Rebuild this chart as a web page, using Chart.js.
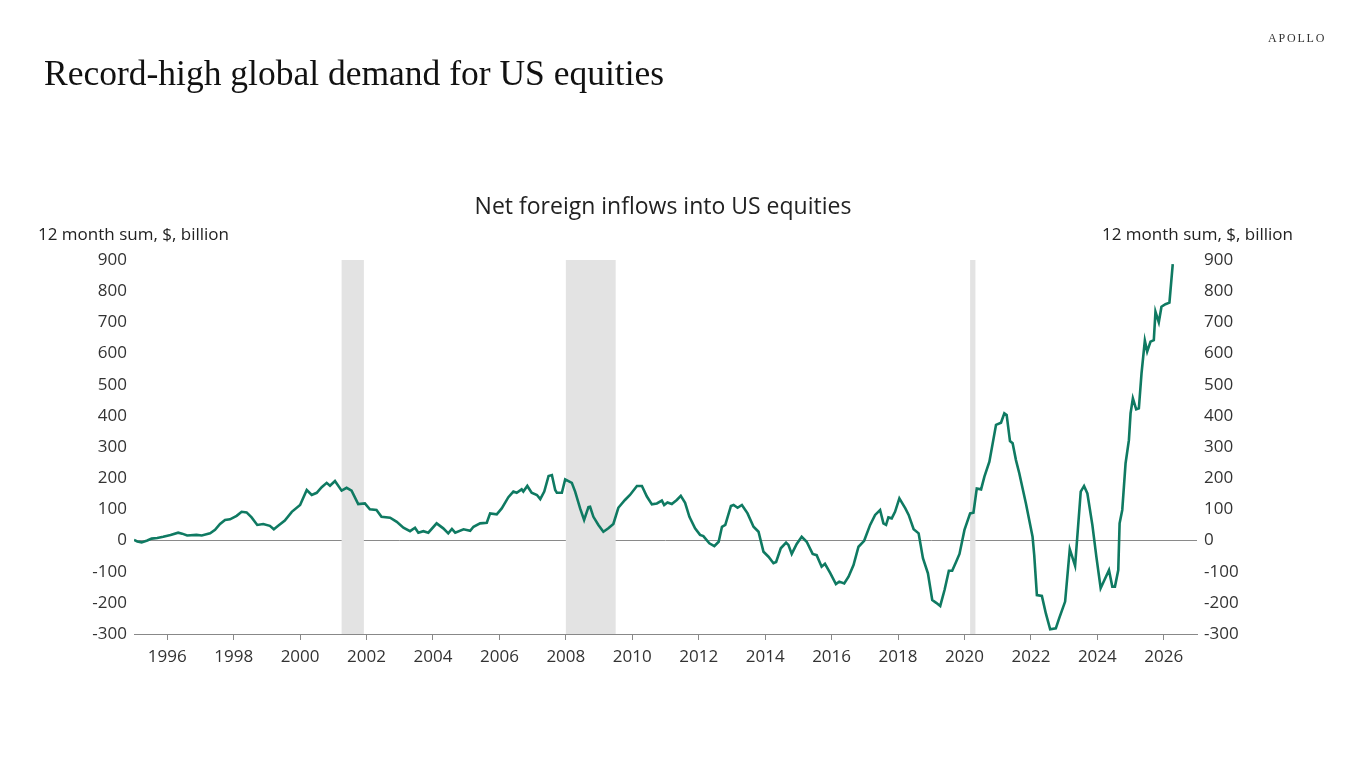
<!DOCTYPE html>
<html>
<head>
<meta charset="utf-8">
<script src="https://cdn.jsdelivr.net/npm/chart.js@4.4.1/dist/chart.umd.min.js"></script>
<style>
  html,body{margin:0;padding:0;background:#fff;}
  #wrap{position:relative;width:1366px;height:768px;overflow:hidden;}
  #c{position:absolute;left:0;top:0;}
  .t{position:absolute;white-space:nowrap;color:#222;}
  #title{left:44px;top:52px;font-family:"Liberation Serif",serif;font-size:35.5px;color:#111;}
  #logo{left:1268px;top:31px;font-family:"Liberation Serif",serif;font-size:12px;letter-spacing:1.8px;color:#333;}
  #sub{left:0;width:1326px;text-align:center;top:189px;font-family:"Open Sans",sans-serif;font-size:23px;color:#222;}
  #yl{left:38px;top:222px;font-family:"Open Sans",sans-serif;font-size:17px;}
  #yr{right:73px;top:222px;font-family:"Open Sans",sans-serif;font-size:17px;}
</style>
</head>
<body>
<div id="wrap">
  <canvas id="c" width="1366" height="768"></canvas>
  <div class="t" id="title">Record-high global demand for US equities</div>
  <div class="t" id="logo">APOLLO</div>
  <div class="t" id="sub">Net foreign inflows into US equities</div>
  <div class="t" id="yl">12 month sum, $, billion</div>
  <div class="t" id="yr">12 month sum, $, billion</div>
</div>
<script>
// Time (decimal year) of each reading
const years = [
1995.0,1995.1,1995.23,1995.4,1995.53,1995.7,1995.88,1996.1,1996.33,1996.45,1996.6,1996.88,
1997.04,1997.29,1997.44,1997.59,1997.74,1997.89,1998.09,1998.24,1998.39,1998.54,1998.71,1998.89,
1999.09,1999.21,1999.34,1999.54,1999.75,2000.0,2000.2,2000.35,2000.5,2000.65,2000.8,2000.9,
2001.05,2001.25,2001.4,2001.55,2001.75,2001.95,2002.1,2002.3,2002.45,2002.71,2002.91,2003.11,
2003.31,2003.46,2003.56,2003.71,2003.86,2004.11,2004.31,2004.46,2004.57,2004.67,2004.92,2005.12,
2005.22,2005.42,2005.62,2005.72,2005.92,2006.07,2006.27,2006.42,2006.52,2006.67,2006.72,2006.84,
2006.97,2007.13,2007.23,2007.35,2007.48,2007.58,2007.68,2007.73,2007.88,2007.98,2008.18,2008.28,
2008.43,2008.55,2008.68,2008.73,2008.83,2008.98,2009.13,2009.28,2009.43,2009.58,2009.78,2009.93,
2010.14,2010.29,2010.44,2010.59,2010.74,2010.89,2010.96,2011.06,2011.19,2011.34,2011.46,2011.59,
2011.72,2011.89,2012.04,2012.14,2012.32,2012.47,2012.6,2012.7,2012.8,2012.97,2013.05,2013.17,
2013.3,2013.47,2013.65,2013.8,2013.95,2014.1,2014.25,2014.33,2014.47,2014.63,2014.7,2014.8,
2014.95,2015.1,2015.25,2015.43,2015.55,2015.7,2015.8,2015.96,2016.13,2016.23,2016.38,2016.51,
2016.66,2016.81,2016.98,2017.16,2017.31,2017.46,2017.56,2017.64,2017.71,2017.81,2017.91,2018.04,
2018.22,2018.32,2018.47,2018.62,2018.75,2018.9,2019.03,2019.15,2019.27,2019.4,2019.53,2019.63,
2019.75,2019.85,2020.0,2020.17,2020.27,2020.37,2020.5,2020.6,2020.75,2020.95,2021.1,2021.2,
2021.27,2021.37,2021.45,2021.55,2021.65,2021.85,2022.05,2022.1,2022.18,2022.33,2022.45,2022.58,
2022.75,2022.85,2023.03,2023.17,2023.33,2023.5,2023.6,2023.7,2023.85,2023.97,2024.1,2024.22,
2024.35,2024.45,2024.53,2024.63,2024.67,2024.75,2024.85,2024.95,2025.0,2025.07,2025.17,2025.25,
2025.33,2025.43,2025.5,2025.6,2025.7,2025.75,2025.85,2025.93,2026.05,2026.17,2026.27
];
// Net foreign inflows, 12 month sum, $ billion
const inflows = [
2,-3,-6,0,6,8,12,18,25,22,16,18,
16,23,34,53,66,68,79,92,90,74,50,53,
47,36,47,64,92,114,162,146,153,171,185,176,
191,160,169,160,117,119,100,98,76,73,60,41,
30,41,25,30,25,55,39,23,37,25,36,31,
44,55,57,87,84,103,139,157,153,164,157,175,
153,146,133,157,207,210,162,153,153,196,185,157,
103,66,107,108,76,50,28,39,53,105,130,146,
175,175,141,116,119,128,114,122,117,130,143,121,
76,39,18,14,-9,-18,-4,44,50,111,114,105,
114,87,44,28,-36,-52,-73,-69,-25,-7,-14,-43,
-11,12,-4,-43,-47,-84,-75,-105,-140,-132,-138,-116,
-79,-20,-1,50,82,98,55,50,74,71,92,135,
103,82,36,23,-57,-105,-191,-200,-210,-159,-97,-97,
-68,-43,34,87,89,167,164,205,253,371,378,408,
403,319,312,258,216,119,12,-47,-175,-178,-234,-285,
-282,-250,-196,-28,-81,157,175,151,50,-52,-153,-125,
-95,-148,-148,-95,55,98,248,322,408,456,421,424,
536,641,606,638,643,734,700,750,758,763,887
];
const xTicks = [1996,1998,2000,2002,2004,2006,2008,2010,2012,2014,2016,2018,2020,2022,2024,2026];
const yTicks = [-300,-200,-100,0,100,200,300,400,500,600,700,800,900];
const recessionStart = [2001.25, 2008.0, 2020.17];
const recessionEnd   = [2001.92, 2009.5, 2020.33];

const points = years.map((y,i)=>({x:y, y:inflows[i]}));

const shadePlugin = {
  id:'shade',
  beforeDatasetsDraw(chart){
    const {ctx, chartArea, scales:{x}} = chart;
    ctx.save();
    ctx.fillStyle = '#e3e3e3';
    recessionStart.forEach((s,i)=>{
      const x0 = x.getPixelForValue(s), x1 = x.getPixelForValue(recessionEnd[i]);
      ctx.fillRect(x0, chartArea.top, x1-x0, chartArea.bottom-chartArea.top);
    });
    ctx.restore();
  }
};

const tickFont = {family:'"Open Sans", sans-serif', size:17};
new Chart(document.getElementById('c'), {
  type:'line',
  data:{datasets:[{data:points, borderColor:'#0f7a62', borderWidth:2.6, pointRadius:0, tension:0, fill:false}]},
  options:{
    responsive:false, animation:false,
    layout:{padding:{top:260,left:0,right:0,bottom:0}},
    plugins:{legend:{display:false}, tooltip:{enabled:false}},
    scales:{
      x:{type:'linear', min:1995, max:2027,
        afterBuildTicks(s){ s.ticks = xTicks.map(v=>({value:v})); },
        afterFit(s){ s.height = 134; },
        grid:{drawOnChartArea:false, drawTicks:true, tickLength:6, color:'#888'},
        border:{color:'#888', width:1},
        ticks:{color:'#333', font:tickFont, padding:7, maxRotation:0, autoSkip:false, callback:v=>String(v)}
      },
      y:{position:'left', min:-300, max:900,
        afterBuildTicks(s){ s.ticks = yTicks.map(v=>({value:v})); },
        afterFit(s){ s.width = 134; },
        grid:{drawTicks:false, color:c=>c.tick && c.tick.value===0 ? '#8a8a8a' : 'rgba(0,0,0,0)', lineWidth:1},
        border:{display:false},
        ticks:{color:'#333', font:tickFont, padding:7, callback:v=>String(v)}
      },
      y2:{position:'right', min:-300, max:900,
        afterBuildTicks(s){ s.ticks = yTicks.map(v=>({value:v})); },
        afterFit(s){ s.width = 169; },
        grid:{display:false, drawTicks:false},
        border:{display:false},
        ticks:{color:'#333', font:tickFont, padding:7, callback:v=>String(v)}
      }
    }
  },
  plugins:[shadePlugin]
});
</script>
</body>
</html>
